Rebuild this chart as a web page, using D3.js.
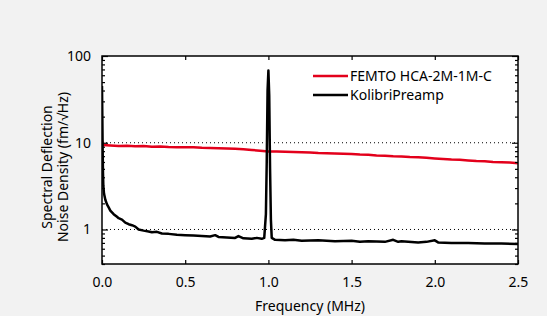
<!DOCTYPE html>
<html>
<head>
<meta charset="utf-8">
<script src="https://cdn.jsdelivr.net/npm/d3@7"></script>
<style>
  body { margin: 0; background: #f2f2f2; }
  svg { display: block; font-family: "Noto Sans", "Open Sans", sans-serif; }
</style>
</head>
<body>
<script>
// series: FEMTO HCA-2M-1M-C (red)
var femtoFreq = [0.000, 0.005, 0.05, 0.10, 0.15, 0.20, 0.25, 0.30, 0.35, 0.40, 0.45, 0.50, 0.55, 0.60, 0.65, 0.70, 0.75, 0.80, 0.85, 0.90, 0.95, 1.00,
  1.05, 1.10, 1.15, 1.20, 1.25, 1.30, 1.35, 1.40, 1.45, 1.50, 1.55, 1.60, 1.65, 1.70, 1.75, 1.80, 1.85, 1.90, 1.95, 2.00,
  2.05, 2.10, 2.15, 2.20, 2.25, 2.30, 2.35, 2.40, 2.45, 2.50];
var femtoVal = [10.6, 9.4, 9.3, 9.2, 9.25, 9.1, 9.15, 9.0, 9.05, 8.95, 8.9, 8.85, 8.9, 8.75, 8.7, 8.65, 8.6, 8.5, 8.4, 8.25, 8.1, 7.95,
  7.9, 7.85, 7.8, 7.75, 7.7, 7.6, 7.55, 7.5, 7.45, 7.4, 7.3, 7.25, 7.15, 7.1, 7.0, 6.95, 6.85, 6.8, 6.7, 6.6,
  6.5, 6.4, 6.35, 6.25, 6.15, 6.1, 6.0, 5.95, 5.9, 5.8];

// series: KolibriPreamp (black)
var kolibriFreq = [0.000, 0.002, 0.004, 0.006, 0.008, 0.012, 0.02, 0.03, 0.04, 0.05, 0.07, 0.09, 0.10, 0.12, 0.14, 0.16, 0.18, 0.20,
  0.22, 0.25, 0.28, 0.30, 0.33, 0.36, 0.40, 0.45, 0.50, 0.55, 0.60, 0.65, 0.68, 0.70, 0.75, 0.80, 0.82, 0.85, 0.90, 0.93, 0.96,
  0.975, 0.985, 0.99, 0.995, 1.000, 1.005, 1.01, 1.015, 1.02, 1.04, 1.10, 1.15, 1.20, 1.30, 1.40, 1.50, 1.55, 1.60, 1.70, 1.75,
  1.78, 1.80, 1.90, 1.95, 2.00, 2.02, 2.10, 2.20, 2.30, 2.40, 2.50];
var kolibriVal = [45, 20, 8, 4.5, 3.2, 2.6, 2.2, 1.95, 1.8, 1.65, 1.5, 1.4, 1.35, 1.3, 1.2, 1.15, 1.12, 1.08,
  1.0, 0.97, 0.95, 0.93, 0.94, 0.9, 0.89, 0.87, 0.86, 0.85, 0.84, 0.83, 0.86, 0.82, 0.81, 0.8, 0.84, 0.79, 0.78, 0.8, 0.78,
  0.8, 1.5, 6, 40, 68, 35, 5, 1.3, 0.8, 0.76, 0.75, 0.76, 0.74, 0.75, 0.73, 0.74, 0.72, 0.73, 0.72, 0.76,
  0.72, 0.73, 0.71, 0.72, 0.75, 0.71, 0.7, 0.7, 0.69, 0.69, 0.68];

var xTicks = [0, 0.5, 1.0, 1.5, 2.0, 2.5];
var yTicks = [1, 10, 100];
var gridVals = [1, 10];
var seriesNames = ["FEMTO HCA-2M-1M-C", "KolibriPreamp"];
var seriesColors = ["#e3001b", "#000000"];

var W = 547, H = 316;
var margin = {left: 102, right: 29, top: 56, bottom: 52};
var width = W - margin.left - margin.right,
    height = H - margin.top - margin.bottom;

var svg = d3.select("body").append("svg").attr("width", W).attr("height", H);
var g = svg.append("g").attr("transform", "translate(" + margin.left + "," + margin.top + ")");

var x = d3.scaleLinear().domain([0, 2.5]).range([0, width]);
var y = d3.scaleLog().domain([0.4, 100]).range([height, 0]);

g.append("rect").attr("width", width).attr("height", height).attr("fill", "#fff");

// dotted grid lines
g.selectAll(".grid").data(gridVals).enter().append("line")
  .attr("x1", 0).attr("x2", width)
  .attr("y1", function(d){ return y(d); }).attr("y2", function(d){ return y(d); })
  .attr("stroke", "#000").attr("stroke-width", 1).attr("stroke-dasharray", "1,3");

var line = d3.line()
  .x(function(d){ return x(d[0]); })
  .y(function(d){ return y(d[1]); });

var series = [d3.zip(femtoFreq, femtoVal), d3.zip(kolibriFreq, kolibriVal)];
g.append("defs").append("clipPath").attr("id", "clip")
  .append("rect").attr("width", width).attr("height", height);
series.forEach(function(s, i){
  g.append("path").attr("d", line(s)).attr("fill", "none")
    .attr("stroke", seriesColors[i]).attr("stroke-width", 2.5)
    .attr("stroke-linejoin", "round").attr("clip-path", "url(#clip)");
});

// axes with inward ticks
var minorTicks = y.ticks().filter(function(t){ return yTicks.indexOf(t) < 0; });

var xBottom = d3.axisBottom(x).tickValues(xTicks).tickFormat(d3.format(".1f")).tickSizeInner(-4).tickSizeOuter(0).tickPadding(13);
var xTop = d3.axisTop(x).tickValues(xTicks).tickFormat("").tickSizeInner(-4).tickSizeOuter(0);
var yLeft = d3.axisLeft(y).tickValues(yTicks).tickFormat(d3.format("d")).tickSizeInner(-6).tickSizeOuter(0).tickPadding(11);
var yRight = d3.axisRight(y).tickValues(yTicks).tickFormat("").tickSizeInner(-6).tickSizeOuter(0);
var yLeftMinor = d3.axisLeft(y).tickValues(minorTicks).tickFormat("").tickSizeInner(-3).tickSizeOuter(0);
var yRightMinor = d3.axisRight(y).tickValues(minorTicks).tickFormat("").tickSizeInner(-3).tickSizeOuter(0);

var axes = [
  g.append("g").attr("transform", "translate(0," + height + ")").call(xBottom),
  g.append("g").call(xTop),
  g.append("g").call(yLeft),
  g.append("g").call(yLeftMinor),
  g.append("g").attr("transform", "translate(" + width + ",0)").call(yRight),
  g.append("g").attr("transform", "translate(" + width + ",0)").call(yRightMinor)
];
axes.forEach(function(a){
  a.selectAll("path").remove();
  a.selectAll("line").attr("stroke", "#000").attr("stroke-width", 1.2);
  a.selectAll("text").attr("fill", "#000").style("font-size", "14px").style("font-family", "Noto Sans, sans-serif");
});

// frame
g.append("rect").attr("width", width).attr("height", height)
  .attr("fill", "none").attr("stroke", "#000").attr("stroke-width", 1.5);

// axis titles
svg.append("text").attr("x", margin.left + width / 2).attr("y", 311)
  .attr("text-anchor", "middle").style("font-size", "14px").text("Frequency (MHz)");
var yt = svg.append("text").attr("transform", "translate(52,167) rotate(-90)")
  .attr("text-anchor", "middle").style("font-size", "14px");
yt.append("tspan").attr("x", 0).attr("dy", 0).text("Spectral Deflection");
yt.append("tspan").attr("x", 0).attr("dy", 16).text("Noise Density (fm/\u221AHz)");

// legend
var legend = g.append("g").attr("transform", "translate(211,20)");
seriesNames.forEach(function(name, i){
  var row = legend.append("g").attr("transform", "translate(0," + (i * 19) + ")");
  row.append("line").attr("x1", 0).attr("x2", 35).attr("y1", 0).attr("y2", 0)
    .attr("stroke", seriesColors[i]).attr("stroke-width", 2.5);
  row.append("text").attr("x", 37).attr("y", 0).attr("dy", "0.35em")
    .style("font-size", "14px").text(name);
});
</script>
</body>
</html>
